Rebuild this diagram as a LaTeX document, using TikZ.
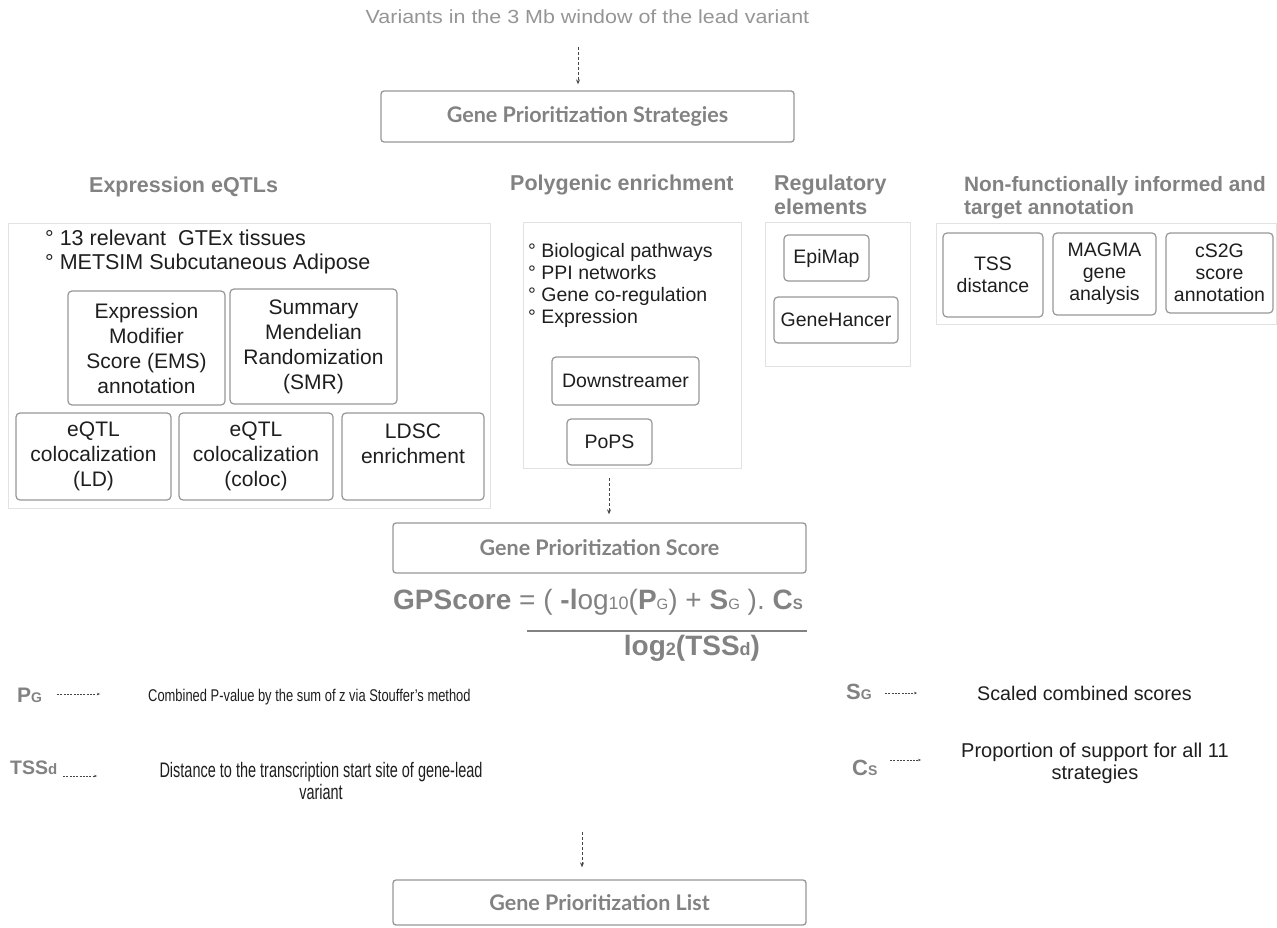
\documentclass[tikz,border=0pt]{standalone}
\usepackage{fontspec}
\setmainfont{Liberation Sans}
\newfontfamily\lato{Lato}
\usetikzlibrary{arrows.meta}
\definecolor{boxgray}{RGB}{150,150,150}
\definecolor{txtgray}{RGB}{130,130,130}
\definecolor{lightgray}{RGB}{226,226,226}
\definecolor{ink}{RGB}{30,30,30}
\definecolor{arrgray}{RGB}{70,70,70}
\tikzset{
  mainbox/.style={draw=boxgray, line width=1.3pt, rounded corners=3pt, inner sep=0pt,
    text=txtgray, font=\lato\bfseries\fontsize{21.5}{24}\selectfont},
  container/.style={draw=lightgray, line width=1pt, inner sep=0pt},
  ibox/.style={draw=boxgray, line width=1.2pt, rounded corners=4pt, inner sep=0pt, align=center,
    text=ink, font=\fontsize{21}{25}\selectfont},
  sbox/.style={ibox, font=\fontsize{19.5}{22}\selectfont},
  header/.style={anchor=west, inner sep=0pt, align=left, text=txtgray,
    font=\bfseries\fontsize{21.5}{23.5}\selectfont},
  bullets/.style={anchor=west, inner sep=0pt, align=left, text=ink},
  flowarr/.style={densely dashed, line width=0.9pt, draw=arrgray, -{Stealth[length=5pt,width=4pt]}},
  legarr/.style={dash pattern=on 2pt off 1.3pt, line width=0.6pt, draw=arrgray, -{Stealth[length=3pt,width=2.5pt]}},
  sym/.style={inner sep=0pt, text=txtgray, font=\bfseries\fontsize{22}{24}\selectfont},
  desc/.style={inner sep=0pt, align=center, text=ink},
}
\begin{document}
\begin{tikzpicture}[x=1pt, y=-1pt]
\useasboundingbox (0,0) rectangle (1277,928);

% top
\node[inner sep=0pt, text=txtgray!85, font=\fontsize{19}{22}\selectfont] (var) at (587.5,17) {\scalebox{1.13}[1]{Variants in the 3 Mb window of the lead variant}};
\node[mainbox, minimum width=413pt, minimum height=51pt] (strat) at (587.5,116.5) {Gene Prioritization Strategies};
\coordinate (a1) at (578,47);
\draw[flowarr, shorten >=6pt] (a1) -- (a1 |- strat.north);

% headers
\node[header] (h1) at (89,187) {Expression eQTLs};
\node[header] (h2) at (510,185) {Polygenic enrichment};
\node[header] (h3) at (774,195) {Regulatory\\elements};
\node[header, font=\bfseries\fontsize{20.8}{23.5}\selectfont] (h4) at (964,197.5) {Non-functionally informed and\\target annotation};

% containers
\node[container, minimum width=482pt, minimum height=284pt] (c1) at (249,366) {};
\node[container, minimum width=218pt, minimum height=245pt] (c2) at (632,345.5) {};
\node[container, minimum width=145pt, minimum height=143pt] (c3) at (837.5,294.5) {};
\node[container, minimum width=340pt, minimum height=100pt] (c4) at (1106,274) {};

% eQTL
\node[bullets, font=\fontsize{21.5}{24}\selectfont] (b1) at (45,252) {\textdegree\ 13 relevant\ \ GTEx tissues\\\textdegree\ METSIM Subcutaneous Adipose};
\node[ibox, minimum width=157pt, minimum height=114pt] (ems) at (146.5,348) {Expression\\Modifier\\Score (EMS)\\annotation};
\node[ibox, minimum width=167pt, minimum height=115pt] (smr) at (313.5,346.5) {Summary\\Mendelian\\Randomization\\(SMR)};
\node[ibox, minimum width=155pt, minimum height=87pt] (ld) at (93.5,456.5) {eQTL\\colocalization\\(LD)};
\node[ibox, minimum width=154pt, minimum height=87pt] (coloc) at (256,456.5) {eQTL\\colocalization\\(coloc)};
\node[ibox, minimum width=142pt, minimum height=87pt] (ldsc) at (413,456.5) {LDSC\\enrichment\\~};

% polygenic
\node[bullets, font=\fontsize{19.5}{22}\selectfont] (b2) at (528,285) {\textdegree\ Biological pathways\\\textdegree\ PPI networks\\\textdegree\ Gene co-regulation\\\textdegree\ Expression};
\node[sbox, minimum width=147pt, minimum height=48pt] (down) at (625.5,381) {Downstreamer};
\node[sbox, minimum width=85pt, minimum height=46pt] (pops) at (609.5,442) {PoPS};

% regulatory
\node[sbox, minimum width=85pt, minimum height=46pt] (epi) at (826.5,258) {EpiMap};
\node[sbox, minimum width=124pt, minimum height=46pt] (gh) at (836,320) {GeneHancer};

% non-functional
\node[sbox, minimum width=100pt, minimum height=84pt] (tss) at (993,275) {TSS\\distance};
\node[sbox, minimum width=103pt, minimum height=82pt] (magma) at (1104.5,274) {MAGMA\\gene\\analysis};
\node[sbox, minimum width=107pt, minimum height=80pt] (cs2g) at (1219.5,273) {cS2G\\score\\annotation};

% score
\node[mainbox, minimum width=413pt, minimum height=50pt] (score) at (599.5,548) {Gene Prioritization Score};
\coordinate (a2) at (609,478);
\draw[flowarr, shorten >=8pt] (a2) -- (a2 |- score.north);

\node[inner sep=0pt, text=txtgray, font=\fontsize{28}{30}\selectfont] (num) at (598,602)
 {\textbf{GPScore} = ( \textbf{-l}og{\fontsize{18}{18}\selectfont 10}(\textbf{P}{\fontsize{15}{15}\selectfont G}) + \textbf{S}{\fontsize{15}{15}\selectfont G} ). \textbf{C}{\fontsize{15}{15}\selectfont\textbf{S}}};
\coordinate (fl) at (527,631);
\coordinate (fr) at (807,631);
\draw[draw=txtgray, line width=1.6pt] (fl) -- (fr);
\node[inner sep=0pt, text=txtgray, font=\bfseries\fontsize{28}{30}\selectfont] (den) at (692,648)
 {log{\fontsize{18}{18}\selectfont 2}(TSS{\fontsize{18}{18}\selectfont d})};

% legend
\node[sym, anchor=west, font=\bfseries\fontsize{21}{24}\selectfont] (pg) at (17,695) {P{\fontsize{14}{14}\selectfont G}};
\coordinate (pgs) at (57,694);
\coordinate (pge) at (100,694);
\draw[legarr] (pgs) -- (pge);
\node[desc, anchor=west, font=\fontsize{17}{20}\selectfont] (pgd) at (148,697) {\scalebox{0.76}[1]{Combined P-value by the sum of z via Stouffer’s method}};

\node[sym, anchor=west, font=\bfseries\fontsize{19.5}{24}\selectfont] (tssd) at (10,768) {TSS{\fontsize{15}{15}\selectfont d}};
\coordinate (tsss) at (63,776);
\coordinate (tsse) at (97,776);
\draw[legarr] (tsss) -- (tsse);
\node[desc, font=\fontsize{21}{22}\selectfont] (tssdd) at (321,781) {\scalebox{0.69}[1]{Distance to the transcription start site of gene-lead}\\\scalebox{0.69}[1]{variant}};

\node[sym, anchor=west] (sg) at (846,692) {S{\fontsize{14}{14}\selectfont G}};
\coordinate (sgs) at (885,693);
\coordinate (sge) at (917,693);
\draw[legarr] (sgs) -- (sge);
\node[desc, anchor=west, font=\fontsize{19.7}{22}\selectfont] (sgd) at (977,693) {Scaled combined scores};

\node[sym, anchor=west] (cs) at (852,768) {C{\fontsize{14}{14}\selectfont S}};
\coordinate (css) at (890,760);
\coordinate (cse) at (921,760);
\draw[legarr] (css) -- (cse);
\node[desc, font=\fontsize{20}{22}\selectfont] (csd) at (1095,763) {Proportion of support for all 11\\strategies};

% list
\coordinate (a3) at (582,832);
\node[mainbox, minimum width=413pt, minimum height=45pt] (list) at (599.5,902.5) {Gene Prioritization List};
\draw[flowarr, shorten >=12pt] (a3) -- (a3 |- list.north);
\end{tikzpicture}
\end{document}
